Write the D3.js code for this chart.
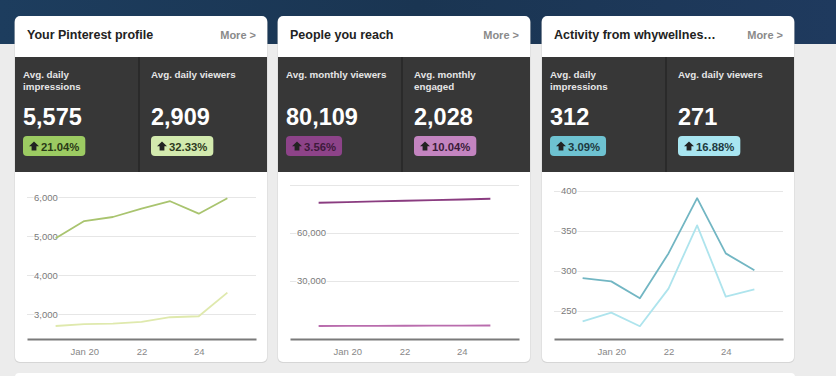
<!DOCTYPE html>
<html>
<head>
<meta charset="utf-8">
<script src="https://cdn.jsdelivr.net/npm/d3@7/dist/d3.min.js"></script>
<style>
  body { margin: 0; background: #ececec; font-family: "Liberation Sans", Arial, sans-serif; }
</style>
</head>
<body>
<svg id="dash" width="836" height="376"></svg>
<script>
// --- data ---
const days = ["2014-01-19", "2014-01-20", "2014-01-21", "2014-01-22", "2014-01-23", "2014-01-24", "2014-01-25"];
const xTickDays = ["2014-01-20", "2014-01-22", "2014-01-24"];

const profileImpressions = [4950, 5390, 5495, 5710, 5900, 5580, 5975];
const profileViewers = [2700, 2750, 2760, 2805, 2925, 2950, 3555];
const reachViewers = [78900, 79300, 79750, 80150, 80550, 80950, 81400];
const reachEngaged = [1870, 1930, 1980, 2030, 2080, 2130, 2180];
const activityImpressions = [291, 287, 266, 322, 391, 322, 301];
const activityViewers = [237, 248, 231, 278, 357, 268, 277];

const cardTitles = ["Your Pinterest profile", "People you reach", "Activity from whywellnes\u2026"];
const metricLabels = [
  [["Avg. daily", "impressions"], ["Avg. daily viewers"]],
  [["Avg. monthly viewers"], ["Avg. monthly", "engaged"]],
  [["Avg. daily", "impressions"], ["Avg. daily viewers"]]
];
const metricValues = [["5,575", "2,909"], ["80,109", "2,028"], ["312", "271"]];
const metricChanges = [["21.04%", "32.33%"], ["3.56%", "10.04%"], ["3.09%", "16.88%"]];

const yTicks = [[3000, 4000, 5000, 6000], [30000, 60000, 90000], [250, 300, 350, 400]];
const yTickLabels = [["3,000", "4,000", "5,000", "6,000"], ["30,000", "60,000", ""], ["250", "300", "350", "400"]];
const yDomains = [[2367, 6341], [-6250, 90625], [215, 408.75]];

const seriesByCard = [
  [profileImpressions, profileViewers],
  [reachViewers, reachEngaged],
  [activityImpressions, activityViewers]
];
const lineColors = [["#a9c46f", "#dfe9ad"], ["#8a3c80", "#b96cad"], ["#72b6c3", "#aee4ed"]];
const badgeColors = [["#9ccb62", "#d3eaae"], ["#8d4389", "#c384c0"], ["#6ec2d1", "#a8e5f0"]];
const badgeText = [["#2a3a16", "#2e3a20"], ["#3d1a3b", "#3a1c38"], ["#1d3a40", "#1d3a40"]];

// --- layout ---
const cardX = [15, 278, 542];
const cardW = 252;
const cardTop = 16, cardBottom = 362;
const panelTop = 57, panelBottom = 172;
const plotTop = 184, plotBottom = 339;

const svg = d3.select("#dash");
const parseDay = d3.timeParse("%Y-%m-%d");
const dates = days.map(parseDay);

// background
const defs = svg.append("defs");
const grad = defs.append("linearGradient").attr("id", "sky").attr("x1", 0).attr("x2", 1);
grad.append("stop").attr("offset", "0%").attr("stop-color", "#1d3d5e");
grad.append("stop").attr("offset", "50%").attr("stop-color", "#1a3552");
grad.append("stop").attr("offset", "100%").attr("stop-color", "#1f3a5e");
svg.append("rect").attr("width", 836).attr("height", 376).attr("fill", "#ececec");
svg.append("rect").attr("width", 836).attr("height", 44).attr("fill", "url(#sky)");

// next row of cards peeking in at the bottom
svg.append("rect").attr("x", 15).attr("y", 373).attr("width", 780).attr("height", 20)
  .attr("rx", 4).attr("fill", "#fff");

cardX.forEach((x0, ci) => {
  const g = svg.append("g");

  // card + shadow
  g.append("rect").attr("x", x0 - 0.5).attr("y", cardTop + 1).attr("width", cardW + 1).attr("height", cardBottom - cardTop)
    .attr("rx", 5).attr("fill", "#d6d6d6");
  g.append("rect").attr("x", x0).attr("y", cardTop).attr("width", cardW).attr("height", cardBottom - cardTop)
    .attr("rx", 5).attr("fill", "#fff");

  // header
  g.append("text").attr("x", x0 + 12).attr("y", 39)
    .style("font-size", "12.5px").style("font-weight", "bold").style("fill", "#222")
    .text(cardTitles[ci]);
  g.append("text").attr("x", x0 + 241).attr("y", 39).attr("text-anchor", "end")
    .style("font-size", "11px").style("font-weight", "bold").style("fill", "#8a8a8a")
    .text("More >");

  // dark metrics panel
  g.append("rect").attr("x", x0).attr("y", panelTop).attr("width", cardW).attr("height", panelBottom - panelTop)
    .attr("fill", "#373737");
  const divX = x0 + 124;
  g.append("line").attr("x1", divX).attr("x2", divX).attr("y1", panelTop).attr("y2", panelBottom)
    .attr("stroke", "#2a2a2a").attr("stroke-width", 2);

  [x0 + 8, divX + 12].forEach((tx, mi) => {
    metricLabels[ci][mi].forEach((line, li) => {
      g.append("text").attr("x", tx).attr("y", 78 + li * 12)
        .style("font-size", "9.8px").style("font-weight", "bold").style("fill", "#e6e6e6")
        .text(line);
    });
    g.append("text").attr("x", tx).attr("y", 125)
      .style("font-size", "23.5px").style("font-weight", "bold").style("fill", "#fff")
      .text(metricValues[ci][mi]);

    // change badge
    const badge = g.append("g").attr("transform", `translate(${tx},136)`);
    const rect = badge.append("rect").attr("height", 20).attr("rx", 4).attr("fill", badgeColors[ci][mi]);
    const t = badge.append("text").attr("x", 18).attr("y", 14.5)
      .style("font-size", "11.3px").style("font-weight", "bold").style("fill", badgeText[ci][mi])
      .text(metricChanges[ci][mi]);
    rect.attr("width", 24 + t.node().getComputedTextLength());
    badge.append("path")
      .attr("d", "M6,10.2 L11,5.5 L16,10.2 L13.4,10.2 L13.4,14.5 L8.6,14.5 L8.6,10.2 Z")
      .attr("fill", "#222");
  });

  // line chart
  const x = d3.scaleTime()
    .domain([parseDay("2014-01-18"), parseDay("2014-01-26")])
    .range([x0 + 12, x0 + 241]);
  const y = d3.scaleLinear().domain(yDomains[ci]).range([plotBottom, plotTop]);

  g.append("g").selectAll("line").data(yTicks[ci]).join("line")
    .attr("x1", x0 + 12).attr("x2", x0 + 241)
    .attr("y1", d => Math.round(y(d)) + 0.5).attr("y2", d => Math.round(y(d)) + 0.5)
    .attr("stroke", "#e6e6e6");

  g.append("g").selectAll("text").data(yTicks[ci]).join("text")
    .attr("x", x0 + 19).attr("y", d => y(d)).attr("dy", "0.35em")
    .style("font-size", "9.5px").style("fill", "#7a7a7a")
    .style("paint-order", "stroke").style("stroke", "#fff").style("stroke-width", "2px")
    .text((d, i) => yTickLabels[ci][i]);

  const line = d3.line().x((d, i) => x(dates[i])).y(d => y(d));
  // lighter series drawn first
  seriesByCard[ci].slice().reverse().forEach((vals, k) => {
    const si = seriesByCard[ci].length - 1 - k;
    g.append("path").datum(vals).attr("d", line)
      .attr("fill", "none").attr("stroke", lineColors[ci][si]).attr("stroke-width", 1.8)
      .attr("stroke-linejoin", "round");
  });

  const fmtTick = d => d.getDate() === 20 ? d3.timeFormat("%b %-d")(d) : d3.timeFormat("%-d")(d);
  const axis = g.append("g").attr("transform", `translate(0,${plotBottom})`)
    .call(d3.axisBottom(x).tickValues(xTickDays.map(parseDay)).tickSize(0).tickPadding(9).tickFormat(fmtTick));
  axis.select(".domain").attr("stroke", "#7a7a7a").attr("stroke-width", 2);
  axis.selectAll("text").style("font-size", "9.5px").style("fill", "#888")
    .style("font-family", "'Liberation Sans', Arial, sans-serif");
});
</script>
</body>
</html>
